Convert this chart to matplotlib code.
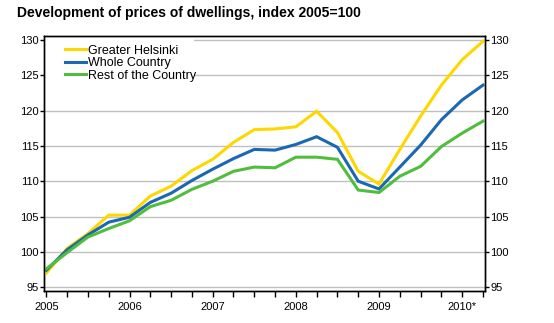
import numpy as np
import matplotlib
matplotlib.use("Agg")
import matplotlib.pyplot as plt
from matplotlib.patches import Rectangle

plt.rcParams['font.family'] = ['Liberation Sans', 'DejaVu Sans']

# quarterly index values, 2005Q1 .. 2010Q2
quarters = list(range(22))
year_labels = ["2005", "2006", "2007", "2008", "2009", "2010*"]

greater_helsinki = [97.0, 100.5, 102.6, 105.2, 105.2, 107.9, 109.3, 111.5,
                    113.1, 115.5, 117.3, 117.4, 117.7, 119.9, 116.9, 111.4,
                    109.6, 114.5, 119.2, 123.6, 127.2, 129.8]
whole_country = [97.4, 100.3, 102.4, 104.2, 104.9, 107.0, 108.3, 110.1,
                 111.7, 113.2, 114.5, 114.4, 115.2, 116.3, 114.8, 110.0,
                 108.9, 112.0, 115.1, 118.7, 121.5, 123.6]
rest_of_country = [97.6, 99.9, 102.1, 103.3, 104.4, 106.4, 107.3, 108.85,
                   110.0, 111.4, 112.0, 111.9, 113.4, 113.4, 113.1, 108.75,
                   108.4, 110.7, 112.1, 114.9, 116.8, 118.5]

names = ["Greater Helsinki", "Whole Country", "Rest of the Country"]
colors = ["#FFD700", "#1A67B2", "#50BE3C"]
yticks = list(range(95, 131, 5))

fig = plt.figure(figsize=(5.54, 3.23), dpi=100)
ax = fig.add_axes([0.08, 0.10, 0.7955, 0.7895])

for vals, name, col in zip([greater_helsinki, whole_country, rest_of_country], names, colors):
    ax.plot(quarters, vals, color=col, lw=2.2, label=name, zorder=3, solid_joinstyle='miter')

ax.set_xlim(-0.1, 21.1)
ax.set_ylim(94.5, 130.6)
ax.set_yticks(yticks)
ax.grid(axis='y', color='#C0C0C0', lw=1)
ax.set_axisbelow(True)

ax.set_xticks(quarters)
ax.set_xticklabels([year_labels[q // 4] if q % 4 == 0 else "" for q in quarters])
ax.tick_params(axis='x', length=4, width=1, pad=4, labelsize=8)
ax.tick_params(axis='y', length=3, width=1, pad=1, labelsize=8)

ax2 = ax.twinx()
ax2.set_ylim(ax.get_ylim())
ax2.set_yticks(yticks)
ax2.tick_params(axis='y', length=3, width=1, pad=1, labelsize=8)

for a in (ax, ax2):
    for s in a.spines.values():
        s.set_color('black')
        s.set_linewidth(1)

# white box behind the legend hides the gridlines
ax.add_patch(Rectangle((0, 0.8), 0.34, 0.2, transform=ax.transAxes,
                       facecolor='white', edgecolor='none', zorder=2))
ax.legend(loc='upper left', bbox_to_anchor=(0.035, 0.985), frameon=False,
          fontsize=9, handlelength=1.7, handletextpad=0.2, labelspacing=0.05,
          borderaxespad=0)

fig.text(0.031, 0.96, "Development of prices of dwellings, index 2005=100",
         fontsize=10, fontweight='bold', va='center', ha='left')

fig.savefig("out.png", dpi=100)
